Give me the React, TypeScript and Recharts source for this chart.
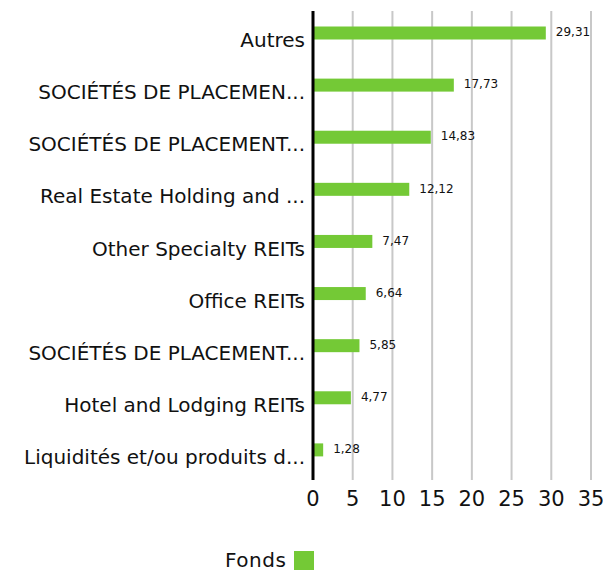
import { BarChart, Bar, XAxis, YAxis, CartesianGrid, Legend, LabelList } from 'recharts';

const categories = [
  'Autres',
  'SOCIÉTÉS DE PLACEMEN...',
  'SOCIÉTÉS DE PLACEMENT...',
  'Real Estate Holding and ...',
  'Other Specialty REITs',
  'Office REITs',
  'SOCIÉTÉS DE PLACEMENT...',
  'Hotel and Lodging REITs',
  'Liquidités et/ou produits d...',
];
const fonds = [29.31, 17.73, 14.83, 12.12, 7.47, 6.64, 5.85, 4.77, 1.28];
const xTicks = [0, 5, 10, 15, 20, 25, 30, 35];

const GREEN = '#74c936';
const FONT = '"DejaVu Sans", Inter, sans-serif';
// bars sit a little above the middle of their row in the original
const BAR_SHIFT = -4.5;

const data = categories.map((name, i) => ({ id: i, name, fonds: fonds[i] }));

const fmt = (v: number) => v.toFixed(2).replace('.', ',');

function FondsLegend() {
  return (
    <div style={{ position: 'relative', height: 40, fontFamily: FONT, fontSize: 20, color: '#111' }}>
      <span style={{ position: 'absolute', left: 225, top: 19, lineHeight: '16px', letterSpacing: 0.5 }}>Fonds</span>
      <span style={{ position: 'absolute', left: 294, top: 18, width: 20, height: 19, background: GREEN }} />
    </div>
  );
}

function ShiftedBar(props: any) {
  const { x, y, width, height } = props;
  return <rect x={x} y={y + BAR_SHIFT} width={width} height={height} fill={GREEN} />;
}

function ValueLabel(props: any) {
  const { x, y, width, height, value } = props;
  return (
    <text x={x + width + 10} y={y + height / 2 + BAR_SHIFT - 1} dy="0.35em" fontSize={12} fill="#111" fontFamily={FONT}>
      {fmt(value)}
    </text>
  );
}

export default function App() {
  return (
    <div style={{ position: 'absolute', left: 0, top: 0, background: '#fff' }}>
      <BarChart
        width={603}
        height={573}
        data={data}
        layout="vertical"
        margin={{ top: 11, right: 12, bottom: 0, left: 0 }}
      >
        <CartesianGrid horizontal={false} stroke="#c8c8c8" strokeWidth={2} />
        <XAxis
          type="number"
          domain={[0, 35]}
          ticks={xTicks}
          axisLine={false}
          tickLine={false}
          height={53}
          interval={0}
          tickMargin={5}
          tick={{ fontSize: 21, fill: '#111', fontFamily: FONT }}
        />
        <YAxis
          type="category"
          dataKey="id"
          width={313}
          axisLine={{ stroke: '#000', strokeWidth: 3 }}
          tickLine={false}
          interval={0}
          tickFormatter={(i: number) => categories[i]}
          tick={{ fontSize: 20, fill: '#111', fontFamily: FONT, dy: 3 }}
        />
        <Legend verticalAlign="bottom" height={40} content={() => <FondsLegend />} />
        <Bar dataKey="fonds" fill={GREEN} barSize={13} shape={ShiftedBar} isAnimationActive={false}>
          <LabelList dataKey="fonds" content={ValueLabel} />
        </Bar>
      </BarChart>
    </div>
  );
}
